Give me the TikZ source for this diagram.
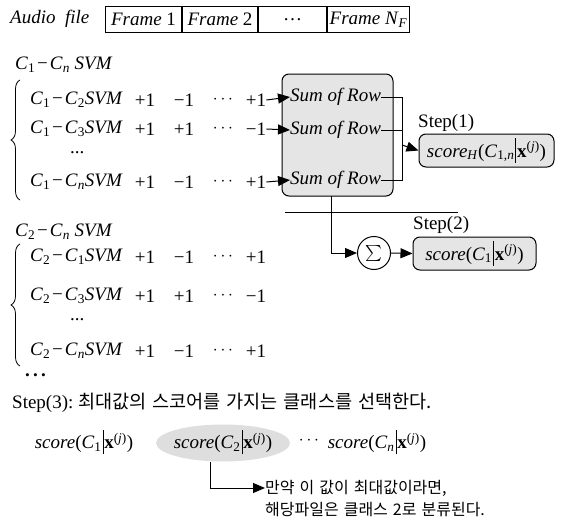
\documentclass[tikz,border=0pt]{standalone}
\usepackage{fontspec}
\setmainfont{Liberation Serif}
\newfontfamily\krfont[WordSpace=2]{Noto Sans CJK KR}
\newfontfamily\krnotefont[WordSpace=1.4]{Noto Sans CJK KR}
\usetikzlibrary{arrows.meta,decorations.pathreplacing,shapes.geometric,calc}

% class symbols and score expressions
\newcommand\Cls[1]{\textit{C}\textsubscript{#1}}
\newcommand\condbar{\kern1pt\raisebox{-0.3em}{\rule{0.7pt}{1.3em}}\kern1pt}
\newcommand\xj{\textbf{x}\textsuperscript{(\textit{j})}}
\newcommand\score[1]{\textit{score}(\Cls{#1}\condbar\xj)}
\newcommand\svmpair[2]{\Cls{#1}\kern2pt−\kern2pt\Cls{#2}\textit{SVM}}

\begin{document}
\begin{tikzpicture}[x=1pt,y=-1pt,
  font=\fontsize{19}{21}\selectfont,
  txt/.style={inner sep=0pt, anchor=west},
  num/.style={inner sep=0pt},
  framecell/.style={draw, line width=1pt, anchor=north west, minimum height=26pt, inner sep=0pt},
  graybox/.style={draw, line width=1pt, rounded corners=7pt, fill=black!10, inner sep=0pt},
  arr/.style={line width=1pt, -{Triangle[length=12pt,width=10pt]}},
  wire/.style={line width=1pt},
  curly/.style={line width=0.8pt, decorate, decoration={brace, amplitude=9pt}},
  steplbl/.style={inner sep=0pt, anchor=west, font=\fontsize{19}{21}\selectfont},
  krnote/.style={inner sep=0pt, anchor=west, font=\krnotefont\fontsize{16}{18}\selectfont}
]
\useasboundingbox (0,0) rectangle (566,522);

% audio file split into frames
\node[txt] (audio) at (10,19) {\textit{Audio\ \ file}};
\node[framecell, minimum width=76pt] (f1) at (105,6) {\textit{Frame} 1};
\node[framecell, minimum width=75pt] (f2) at (f1.north east) {\textit{Frame} 2};
\node[framecell, minimum width=68pt] (f3) at (f2.north east) {\dots};
\node[framecell, minimum width=82pt] (f4) at (f3.north east) {\textit{Frame N}\textsubscript{\textit{F}}};

% first group: class 1 against the others
\node[txt] (g1t) at (15,65) {\Cls{1}\kern2pt−\kern2pt\Cls{\textit{n}} \textit{SVM}};
\draw[curly] (20,200) -- (20,80);
\node[txt] (r11) at (30,100) {\svmpair{1}{2}};
\node[txt] (r12) at (30,129) {\svmpair{1}{3}};
\node[txt] (r13) at (70,153) {...};
\node[txt] (r14) at (30,182) {\svmpair{1}{\textit{n}}};

\foreach \r/\y/\a/\b/\c/\d in {1/100/+1/−1/\cdots/+1, 2/129/+1/+1/\cdots/−1, 4/182/+1/−1/\cdots/+1}{
  \node[num] (a\r1) at (145,\y) {\a};
  \node[num] (a\r2) at (184,\y) {\b};
  \node[num] (a\r3) at (223,\y) {$\c$};
  \node[num] (a\r4) at (256,\y) {\d};
}

\node[graybox, minimum width=111pt, minimum height=122pt] (sbox) at (337.5,135) {};
\node[txt] (s1) at (290,97) {\textit{Sum\ of\ Row}};
\node[txt] (s2) at (290,130) {\textit{Sum\ of\ Row}};
\node[txt] (s3) at (290,180) {\textit{Sum\ of\ Row}};
\draw[arr] (a14.east) -- (s1.west);
\draw[arr] (a24.east) -- (s2.west);
\draw[arr] (a44.east) -- (s3.west);

% collect the row sums
\coordinate (jn) at (402,145);
\draw[wire] (s1.east) -| (jn |- s3.east) -- (s3.east);
\draw[wire] (s2.east) -- (s2.east -| jn);

\node[graybox, minimum width=135pt, minimum height=33pt] (hbox) at (486.5,150.5)
  {\textit{score}\textsubscript{\textit{H}}(\textit{C}\textsubscript{1,\textit{n}}\condbar\xj)};
\node[steplbl] (st1) at (418,123) {Step(1)};
\draw[arr] (jn) -- (hbox.west);

% summing over all classes
\draw[wire] (285,212) -- (458,212);
\node[draw, circle, line width=1pt, minimum size=33pt, inner sep=0pt] (sig) at (374,253) {\scalebox{1.6}{$\sum$}};
\coordinate (drop) at (331,196);
\draw[arr] (drop) |- (sig.west);
\node[graybox, minimum width=123pt, minimum height=33pt] (cbox) at (474.5,253.5) {\score{1}};
\node[steplbl] (st2) at (413,225) {Step(2)};
\draw[arr] (sig.east) -- (cbox.west);

% second group: class 2 against the others
\node[txt] (g2t) at (15,232) {\Cls{2}\kern2pt−\kern2pt\Cls{\textit{n}} \textit{SVM}};
\draw[curly] (20,366) -- (20,244);
\node[txt] (q11) at (30,257) {\svmpair{2}{1}};
\node[txt] (q12) at (30,296) {\svmpair{2}{3}};
\node[txt] (q13) at (70,320) {...};
\node[txt] (q14) at (30,351) {\svmpair{2}{\textit{n}}};
\foreach \r/\y/\a/\b/\c/\d in {1/257/+1/−1/\cdots/+1, 2/296/+1/+1/\cdots/−1, 4/351/+1/−1/\cdots/+1}{
  \node[num] (b\r1) at (145,\y) {\a};
  \node[num] (b\r2) at (184,\y) {\b};
  \node[num] (b\r3) at (223,\y) {$\c$};
  \node[num] (b\r4) at (256,\y) {\d};
}
\node[txt] (more) at (25,375) {\textbf{.\,.\,.}};

% step 3: pick the class with the highest score
\node[txt] (st3) at (12,403) {Step(3):\ {\krfont\fontsize{18.6}{20}\selectfont 최대값의 스코어를 가지는 클래스를 선택한다.}};
\node[num] (sc1) at (84,442) {\score{1}};
\node[ellipse, fill=black!13, minimum width=134pt, minimum height=37pt, inner sep=0pt] (ell) at (223,443) {};
\node[num] (sc2) at (223,442) {\score{2}};
\node[num] (dd) at (309,441) {$\cdots$};
\node[num] (scn) at (377,442) {\score{\textit{n}}};

\node[krnote] (n1) at (265,488) {만약 이 값이 최대값이라면,};
\node[krnote] (n2) at (265,510) {해당파일은 클래스 2로 분류된다.};
\draw[arr] ($(ell.south)+(-13,0)$) |- (n1.west);
\end{tikzpicture}
\end{document}
